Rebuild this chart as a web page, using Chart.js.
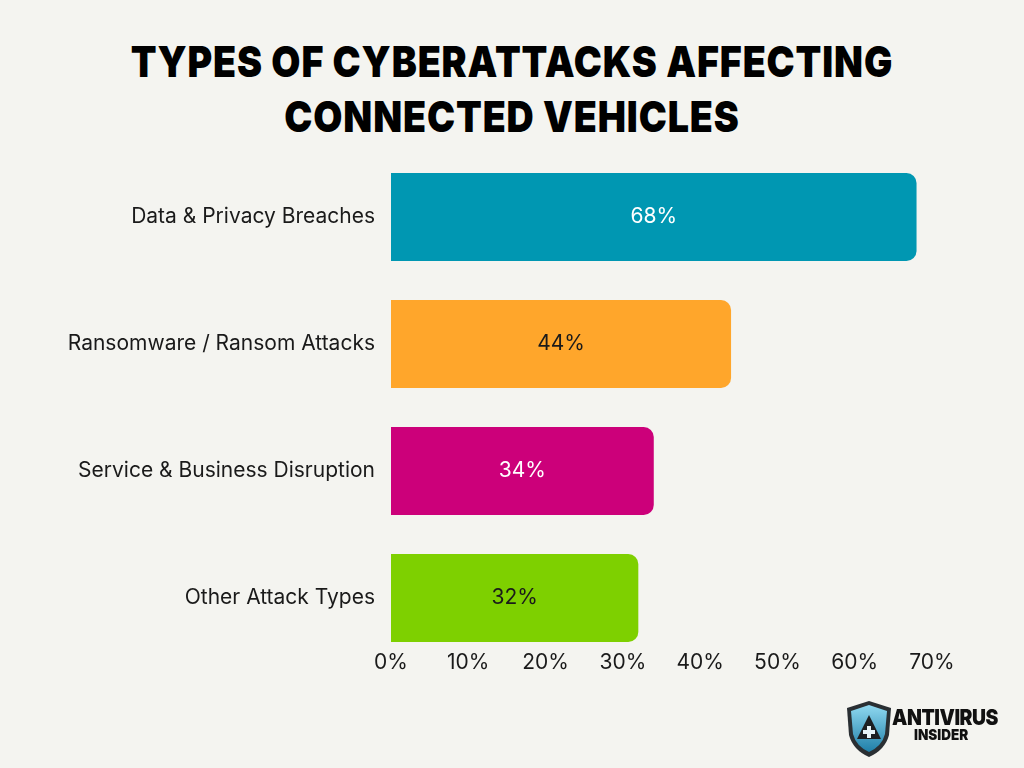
<!DOCTYPE html>
<html>
<head>
<meta charset="utf-8">
<script src="https://cdn.jsdelivr.net/npm/chart.js@4.4.1/dist/chart.umd.min.js"></script>
<style>
  html, body { margin: 0; padding: 0; }
  body { width: 1024px; height: 768px; background: #f4f4f0; position: relative; overflow: hidden; font-family: Inter, 'Noto Sans', sans-serif; }
  #title { position: absolute; left: 0; top: 34px; width: 1024px; text-align: center; font-family: Inter, sans-serif; font-weight: 900; font-size: 43px; line-height: 55px; color: #000; letter-spacing: 1px; transform: scaleX(0.875); transform-origin: 512px 0; }
  #myChart { position: absolute; left: 0; top: 0; }
  #logo { position: absolute; left: 846px; top: 700px; width: 160px; height: 58px; }
  #logo svg { position: absolute; left: 0; top: 0; }
  #logo .l1 { position: absolute; left: 46px; top: 4px; font-family: Inter, sans-serif; font-weight: 900; font-size: 22px; letter-spacing: -0.5px; color: #111; transform: scaleX(0.88); transform-origin: 0 0; }
  #logo .l2 { position: absolute; left: 68px; top: 25px; font-family: Inter, sans-serif; font-weight: 900; font-size: 15px; color: #111; transform: scaleX(0.9); transform-origin: 0 0; }
</style>
</head>
<body>
<div id="title">TYPES OF CYBERATTACKS AFFECTING<br>CONNECTED VEHICLES</div>
<canvas id="myChart" width="1024" height="768"></canvas>
<div id="logo">
  <svg width="46" height="58" viewBox="0 0 46 58">
    <defs>
      <linearGradient id="sg" x1="0" y1="0" x2="0" y2="1">
        <stop offset="0" stop-color="#8fd8f0"/>
        <stop offset="1" stop-color="#1f7fa8"/>
      </linearGradient>
    </defs>
    <path d="M23 1 L45 8 L43 35 Q39 50 23 57 Q7 50 3 35 L1 8 Z" fill="#2a2f33"/>
    <path d="M23 5 L41 11 L39 34 Q36 46 23 52 Q10 46 7 34 L5 11 Z" fill="url(#sg)"/>
    <path d="M23 15 L35 39 L11 39 Z" fill="#1c1f22"/>
    <path d="M21 26 h4 v4 h4 v4 h-4 v4 h-4 v-4 h-4 v-4 h4 z" fill="#e8f4f8"/>
  </svg>
  <div class="l1">ANTIVIRUS</div>
  <div class="l2">INSIDER</div>
</div>
<script>
const categories = ['Data & Privacy Breaches', 'Ransomware / Ransom Attacks', 'Service & Business Disruption', 'Other Attack Types'];
const shares = [68, 44, 34, 32];
const barColors = ['#0097b2', '#ffa62b', '#cc007a', '#7ed000'];
const valueColors = ['#ffffff', '#1a1a1a', '#ffffff', '#1a1a1a'];
const xTicks = [0, 10, 20, 30, 40, 50, 60, 70];

// percentage text in the middle of each bar
const valueLabels = {
    id: 'valueLabels',
    afterDatasetsDraw(chart) {
        const ctx = chart.ctx;
        const meta = chart.getDatasetMeta(0);
        ctx.save();
        ctx.font = '400 21px Inter, sans-serif';
        ctx.textAlign = 'center';
        ctx.textBaseline = 'middle';
        meta.data.forEach((bar, i) => {
            ctx.fillStyle = valueColors[i];
            ctx.fillText(shares[i] + '%', (bar.x + bar.base) / 2, bar.y);
        });
        ctx.restore();
    }
};

// pull the x axis up a little so its labels sit just under the last bar
const raiseXAxis = {
    id: 'raiseXAxis',
    afterLayout(chart) {
        const x = chart.scales.x;
        x.top -= 14;
        x.bottom -= 14;
    }
};

window.addEventListener('load', setup);

function setup() {
    const ctx = document.getElementById('myChart').getContext('2d');
    new Chart(ctx, {
        type: 'bar',
        data: {
            labels: categories,
            datasets: [{
                data: shares,
                backgroundColor: barColors,
                borderRadius: 10,
                borderSkipped: 'start',
                barPercentage: 0.693,
                categoryPercentage: 1
            }]
        },
        options: {
            indexAxis: 'y',
            responsive: false,
            animation: false,
            layout: { padding: { top: 153.5, right: 92, bottom: 66.5, left: 0 } },
            plugins: { legend: { display: false }, tooltip: { enabled: false }, title: { display: false } },
            scales: {
                x: {
                    min: xTicks[0],
                    max: xTicks[xTicks.length - 1],
                    afterBuildTicks(scale) { scale.ticks = xTicks.map(v => ({ value: v })); },
                    afterFit(scale) { scale.height = 40; },
                    grid: { display: false, drawTicks: false },
                    border: { display: false },
                    ticks: {
                        padding: 3,
                        color: '#1a1a1a',
                        font: { family: 'Inter', size: 21 },
                        callback: v => v + '%'
                    }
                },
                y: {
                    afterFit(scale) { scale.width = 391; },
                    grid: { display: false, drawTicks: false },
                    border: { display: false },
                    ticks: {
                        padding: 16,
                        color: '#1a1a1a',
                        font: { family: 'Inter', size: 21 }
                    }
                }
            }
        },
        plugins: [valueLabels, raiseXAxis]
    });
}
</script>
</body>
</html>
